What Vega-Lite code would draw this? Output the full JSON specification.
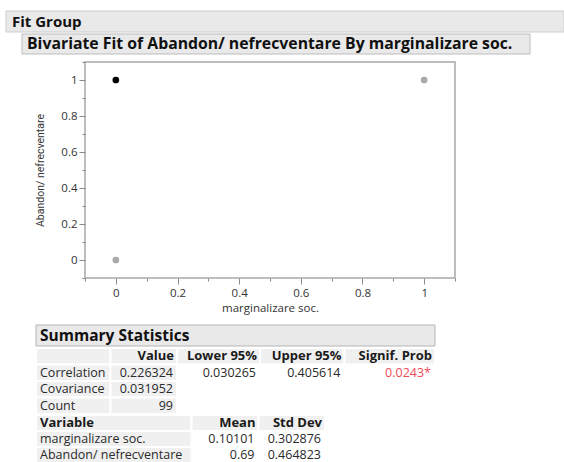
{
  "$schema": "https://vega.github.io/schema/vega-lite/v6.json",
  "padding": {"left": 5, "top": 10, "right": 0, "bottom": 0},
  "background": "white",
  "bounds": "flush",
  "spacing": 0,
  "config": {
    "view": {"stroke": null},
    "font": "Open Sans",
    "text": {"font": "Open Sans"}
  },
  "vconcat": [
    {
      "width": 479, "height": 21,
      "data": {"values": [{"heading": "Fit Group"}]},
      "encoding": {
        "x": {"datum": 0, "type": "quantitative", "scale": {"domain": [0, 1], "range": [-79, 479]}, "axis": null}
      },
      "layer": [
        {"mark": {"type": "rect", "fill": "#e9e9e9", "stroke": "#cdcdcd", "strokeWidth": 1}, "encoding": {"x2": {"datum": 1}}},
        {"mark": {"type": "text", "align": "left", "baseline": "middle", "dx": 6, "fontSize": 15, "fontWeight": "bold", "color": "#111111"},
         "encoding": {"text": {"field": "heading"}}}
      ]
    },
    {"width": 1, "height": 2, "data": {"values": []}, "mark": "point"},
    {
      "width": 445, "height": 20,
      "data": {"values": [{"heading": "Bivariate Fit of Abandon/ nefrecventare By marginalizare soc."}]},
      "encoding": {
        "x": {"datum": 0, "type": "quantitative", "scale": {"domain": [0, 1], "range": [-63, 445]}, "axis": null}
      },
      "layer": [
        {"mark": {"type": "rect", "fill": "#e9e9e9", "stroke": "#bdbdbd", "strokeWidth": 1}, "encoding": {"x2": {"datum": 1}}},
        {"mark": {"type": "text", "align": "left", "baseline": "middle", "dx": 5, "fontSize": 15.8, "fontWeight": "bold", "color": "#111111"},
         "encoding": {"text": {"field": "heading"}}}
      ]
    },
    {"width": 1, "height": 8, "data": {"values": []}, "mark": "point"},
    {
      "width": 370, "height": 216,
      "view": {"stroke": "#a8a8a8", "strokeWidth": 1.5},
      "data": {"values": [
        {"marginalizare_soc": 0, "abandon": 0},
        {"marginalizare_soc": 1, "abandon": 1},
        {"marginalizare_soc": 0, "abandon": 1}
      ]},
      "mark": {"type": "circle", "size": 45, "opacity": 1},
      "encoding": {
        "x": {
          "field": "marginalizare_soc", "type": "quantitative",
          "title": "marginalizare soc.",
          "scale": {"domain": [-0.1, 1.1], "nice": false, "zero": false},
          "axis": {
            "values": [-0.1, 0, 0.1, 0.2, 0.3, 0.4, 0.5, 0.6, 0.7, 0.8, 0.9, 1, 1.1],
            "format": "~g",
            "labelExpr": "abs(round(datum.value * 10)) % 2 == 0 ? datum.label : ''",
            "tickSize": {"condition": {"test": "abs(round(datum.value * 10)) % 2 == 0", "value": 6}, "value": 3},
            "tickColor": "#8a8a8a",
            "domain": false, "grid": false,
            "labelFont": "Open Sans", "labelFontSize": 11.5, "labelColor": "#333333",
            "labelPadding": 3, "labelFlush": false, "labelOverlap": false,
            "titleFont": "Open Sans", "titleFontSize": 11.5, "titleFontWeight": "normal",
            "titleColor": "#333333", "titlePadding": 4
          }
        },
        "y": {
          "field": "abandon", "type": "quantitative",
          "title": "Abandon/ nefrecventare",
          "scale": {"domain": [-0.1, 1.1], "nice": false, "zero": false},
          "axis": {
            "values": [-0.1, 0, 0.1, 0.2, 0.3, 0.4, 0.5, 0.6, 0.7, 0.8, 0.9, 1, 1.1],
            "format": "~g",
            "labelExpr": "abs(round(datum.value * 10)) % 2 == 0 ? datum.label : ''",
            "tickSize": {"condition": {"test": "abs(round(datum.value * 10)) % 2 == 0", "value": 6}, "value": 3},
            "tickColor": "#8a8a8a",
            "domain": false, "grid": false,
            "labelFont": "Open Sans", "labelFontSize": 11.5, "labelColor": "#333333",
            "labelPadding": 2, "labelFlush": false, "labelOverlap": false,
            "titleFont": "Roboto", "titleFontSize": 10.5, "titleFontWeight": "normal",
            "titleColor": "#333333", "titlePadding": 15
          }
        },
        "color": {
          "condition": {"test": "datum.marginalizare_soc == 0 && datum.abandon == 1", "value": "#000000"},
          "value": "#a9a9a9"
        }
      }
    },
    {"width": 1, "height": 47, "data": {"values": []}, "mark": "point"},
    {
      "width": 350, "height": 21,
      "data": {"values": [{"heading": "Summary Statistics"}]},
      "encoding": {
        "x": {"datum": 0, "type": "quantitative", "scale": {"domain": [0, 1], "range": [-49, 350]}, "axis": null}
      },
      "layer": [
        {"mark": {"type": "rect", "fill": "#e9e9e9", "stroke": "#b5b5b5", "strokeWidth": 1}, "encoding": {"x2": {"datum": 1}}},
        {"mark": {"type": "text", "align": "left", "baseline": "middle", "dx": 4, "fontSize": 15.5, "fontWeight": "bold", "color": "#111111"},
         "encoding": {"text": {"field": "heading"}}}
      ]
    },
    {"width": 1, "height": 2, "data": {"values": []}, "mark": "point"},
    {
      "width": 350, "height": 66,
      "data": {"values": [
        {"row": "header", "column": "", "c0": 0, "c1": 1, "text": ""},
        {"row": "header", "column": "Value", "c0": 1, "c1": 2, "text": "Value"},
        {"row": "header", "column": "Lower 95%", "c0": 2, "c1": 3, "text": "Lower 95%"},
        {"row": "header", "column": "Upper 95%", "c0": 3, "c1": 4, "text": "Upper 95%"},
        {"row": "header", "column": "Signif. Prob", "c0": 4, "c1": 5, "text": "Signif. Prob"},
        {"row": "Correlation", "column": "", "c0": 0, "c1": 1, "text": "Correlation"},
        {"row": "Correlation", "column": "Value", "c0": 1, "c1": 2, "text": "0.226324"},
        {"row": "Correlation", "column": "Lower 95%", "c0": 2, "c1": 3, "text": "0.030265"},
        {"row": "Correlation", "column": "Upper 95%", "c0": 3, "c1": 4, "text": "0.405614"},
        {"row": "Correlation", "column": "Signif. Prob", "c0": 4, "c1": 5, "text": "0.0243*"},
        {"row": "Covariance", "column": "", "c0": 0, "c1": 1, "text": "Covariance"},
        {"row": "Covariance", "column": "Value", "c0": 1, "c1": 2, "text": "0.031952"},
        {"row": "Count", "column": "", "c0": 0, "c1": 1, "text": "Count"},
        {"row": "Count", "column": "Value", "c0": 1, "c1": 2, "text": "99"}
      ]},
      "encoding": {
        "y": {"field": "row", "type": "nominal", "axis": null,
              "scale": {"domain": ["header", "Correlation", "Covariance", "Count"], "paddingInner": 0, "paddingOuter": 0}}
      },
      "layer": [
        {
          "transform": [{"filter": "datum.row == 'header' || datum.c0 <= 1"}],
          "mark": {"type": "rect", "fill": "#f0f0f0", "stroke": "#ffffff", "strokeWidth": 2},
          "encoding": {
            "x": {"field": "c0", "type": "quantitative", "axis": null,
                  "scale": {"domain": [0, 1, 2, 3, 4, 5], "range": [-49, 25.5, 92, 175, 259.5, 350], "nice": false, "zero": false}},
            "x2": {"field": "c1"}
          }
        },
        {
          "transform": [{"filter": "datum.row == 'header' && datum.c0 > 0"}],
          "mark": {"type": "text", "align": "right", "baseline": "middle", "dx": -3, "fontSize": 13, "fontWeight": "bold", "color": "#1a1a1a"},
          "encoding": {
            "x": {"field": "c1", "type": "quantitative", "axis": null},
            "text": {"field": "text"}
          }
        },
        {
          "transform": [{"filter": "datum.row != 'header' && datum.c0 == 0"}],
          "mark": {"type": "text", "align": "left", "baseline": "middle", "dx": 4, "fontSize": 12.5, "color": "#2a2a2a"},
          "encoding": {
            "x": {"field": "c0", "type": "quantitative", "axis": null},
            "text": {"field": "text"}
          }
        },
        {
          "transform": [{"filter": "datum.row != 'header' && datum.c0 > 0"}],
          "mark": {"type": "text", "align": "right", "baseline": "middle", "dx": -4, "fontSize": 12.5},
          "encoding": {
            "x": {"field": "c1", "type": "quantitative", "axis": null},
            "text": {"field": "text"},
            "color": {"condition": {"test": "datum.column == 'Signif. Prob'", "value": "#ee4b57"}, "value": "#2a2a2a"}
          }
        }
      ]
    },
    {"width": 1, "height": 1, "data": {"values": []}, "mark": "point"},
    {
      "width": 240, "height": 48,
      "data": {"values": [
        {"row": "header", "column": "Variable", "c0": 0, "c1": 1, "text": "Variable"},
        {"row": "header", "column": "Mean", "c0": 1, "c1": 2, "text": "Mean"},
        {"row": "header", "column": "Std Dev", "c0": 2, "c1": 3, "text": "Std Dev"},
        {"row": "marginalizare soc.", "column": "Variable", "c0": 0, "c1": 1, "text": "marginalizare soc."},
        {"row": "marginalizare soc.", "column": "Mean", "c0": 1, "c1": 2, "text": "0.10101"},
        {"row": "marginalizare soc.", "column": "Std Dev", "c0": 2, "c1": 3, "text": "0.302876"},
        {"row": "Abandon/ nefrecventare", "column": "Variable", "c0": 0, "c1": 1, "text": "Abandon/ nefrecventare"},
        {"row": "Abandon/ nefrecventare", "column": "Mean", "c0": 1, "c1": 2, "text": "0.69"},
        {"row": "Abandon/ nefrecventare", "column": "Std Dev", "c0": 2, "c1": 3, "text": "0.464823"}
      ]},
      "encoding": {
        "y": {"field": "row", "type": "nominal", "axis": null,
              "scale": {"domain": ["header", "marginalizare soc.", "Abandon/ nefrecventare"], "paddingInner": 0, "paddingOuter": 0}}
      },
      "layer": [
        {
          "transform": [{"filter": "datum.row == 'header' || datum.c0 == 0"}],
          "mark": {"type": "rect", "fill": "#f0f0f0", "stroke": "#ffffff", "strokeWidth": 2},
          "encoding": {
            "x": {"field": "c0", "type": "quantitative", "axis": null,
                  "scale": {"domain": [0, 1, 2, 3], "range": [-49, 106.5, 173.5, 240], "nice": false, "zero": false}},
            "x2": {"field": "c1"}
          }
        },
        {
          "transform": [{"filter": "datum.row == 'header' && datum.c0 == 0"}],
          "mark": {"type": "text", "align": "left", "baseline": "middle", "dx": 4, "fontSize": 13, "fontWeight": "bold", "color": "#1a1a1a"},
          "encoding": {
            "x": {"field": "c0", "type": "quantitative", "axis": null},
            "text": {"field": "text"}
          }
        },
        {
          "transform": [{"filter": "datum.row == 'header' && datum.c0 > 0"}],
          "mark": {"type": "text", "align": "right", "baseline": "middle", "dx": -3, "fontSize": 13, "fontWeight": "bold", "color": "#1a1a1a"},
          "encoding": {
            "x": {"field": "c1", "type": "quantitative", "axis": null},
            "text": {"field": "text"}
          }
        },
        {
          "transform": [{"filter": "datum.row != 'header' && datum.c0 == 0"}],
          "mark": {"type": "text", "align": "left", "baseline": "middle", "dx": 4, "fontSize": 12.5, "color": "#2a2a2a"},
          "encoding": {
            "x": {"field": "c0", "type": "quantitative", "axis": null},
            "text": {"field": "text"}
          }
        },
        {
          "transform": [{"filter": "datum.row != 'header' && datum.c0 > 0"}],
          "mark": {"type": "text", "align": "right", "baseline": "middle", "dx": -4, "fontSize": 12.5, "color": "#2a2a2a"},
          "encoding": {
            "x": {"field": "c1", "type": "quantitative", "axis": null},
            "text": {"field": "text"}
          }
        }
      ]
    }
  ]
}
